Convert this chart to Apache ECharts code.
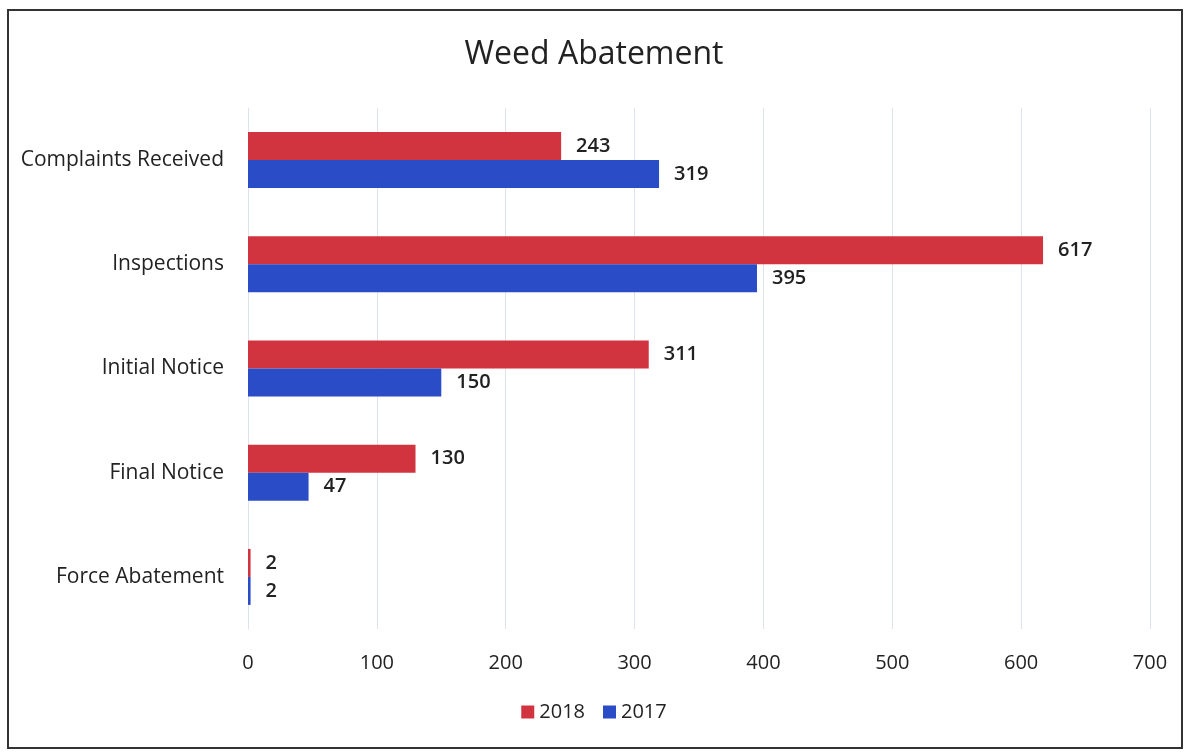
<!DOCTYPE html>
<html>
<head>
<meta charset="utf-8">
<script src="https://cdn.jsdelivr.net/npm/echarts@6/dist/echarts.min.js"></script>
<style>
  html, body { margin: 0; padding: 0; background: #fff; }
  #chart { width: 1188px; height: 755px; }
</style>
</head>
<body>
<div id="chart"></div>
<script>
// categories, top to bottom
var categories = ['Complaints Received', 'Inspections', 'Initial Notice', 'Final Notice', 'Force Abatement'];
var values2018 = [243, 617, 311, 130, 2];
var values2017 = [319, 395, 150, 47, 2];
var xTicks = [0, 100, 200, 300, 400, 500, 600, 700];

var FONT = 'Open Sans';
var labelStyle = {
  show: true,
  position: 'right',
  distance: 15,
  fontSize: 20,
  fontWeight: 600,
  fontFamily: FONT,
  color: '#222'
};

var chart = echarts.init(document.getElementById('chart'));
var options = {
  backgroundColor: '#fff',
  textStyle: { fontFamily: FONT },
  title: {
    text: 'Weed Abatement',
    left: 'center',
    top: 34,
    textStyle: { fontSize: 32, fontWeight: 500, color: '#222', fontFamily: FONT }
  },
  legend: {
    data: ['2018', '2017'],
    bottom: 28,
    left: 'center',
    itemWidth: 13,
    itemHeight: 13,
    itemGap: 18,
    icon: 'rect',
    textStyle: { fontSize: 20, fontWeight: 500, color: '#222', fontFamily: FONT }
  },
  grid: {
    left: 248,
    right: 38,
    top: 108,
    bottom: 126,
    outerBoundsMode: 'none'
  },
  xAxis: {
    type: 'value',
    min: xTicks[0],
    max: xTicks[xTicks.length - 1],
    interval: 100,
    axisLine: { show: false },
    axisTick: { show: false },
    axisLabel: { fontSize: 20, fontWeight: 500, color: '#222', margin: 24 },
    splitLine: { lineStyle: { color: '#dde2ee', width: 1 } }
  },
  yAxis: {
    type: 'category',
    data: categories,
    inverse: true,
    axisLine: { show: true, lineStyle: { color: '#dde2ee' } },
    axisTick: { show: false },
    axisLabel: { fontSize: 21, fontWeight: 500, color: '#222', margin: 24 }
  },
  series: [
    {
      name: '2018',
      type: 'bar',
      data: values2018,
      barWidth: 28,
      barGap: '0%',
      itemStyle: { color: '#d2343f' },
      label: labelStyle
    },
    {
      name: '2017',
      type: 'bar',
      data: values2017,
      barWidth: 28,
      itemStyle: { color: '#2a4cc6' },
      label: labelStyle
    }
  ],
  graphic: [
    {
      type: 'rect',
      shape: { x: 8, y: 10, width: 1174, height: 738 },
      style: { fill: 'none', stroke: '#333', lineWidth: 2 },
      silent: true
    }
  ]
};
chart.setOption(options);
</script>
</body>
</html>
